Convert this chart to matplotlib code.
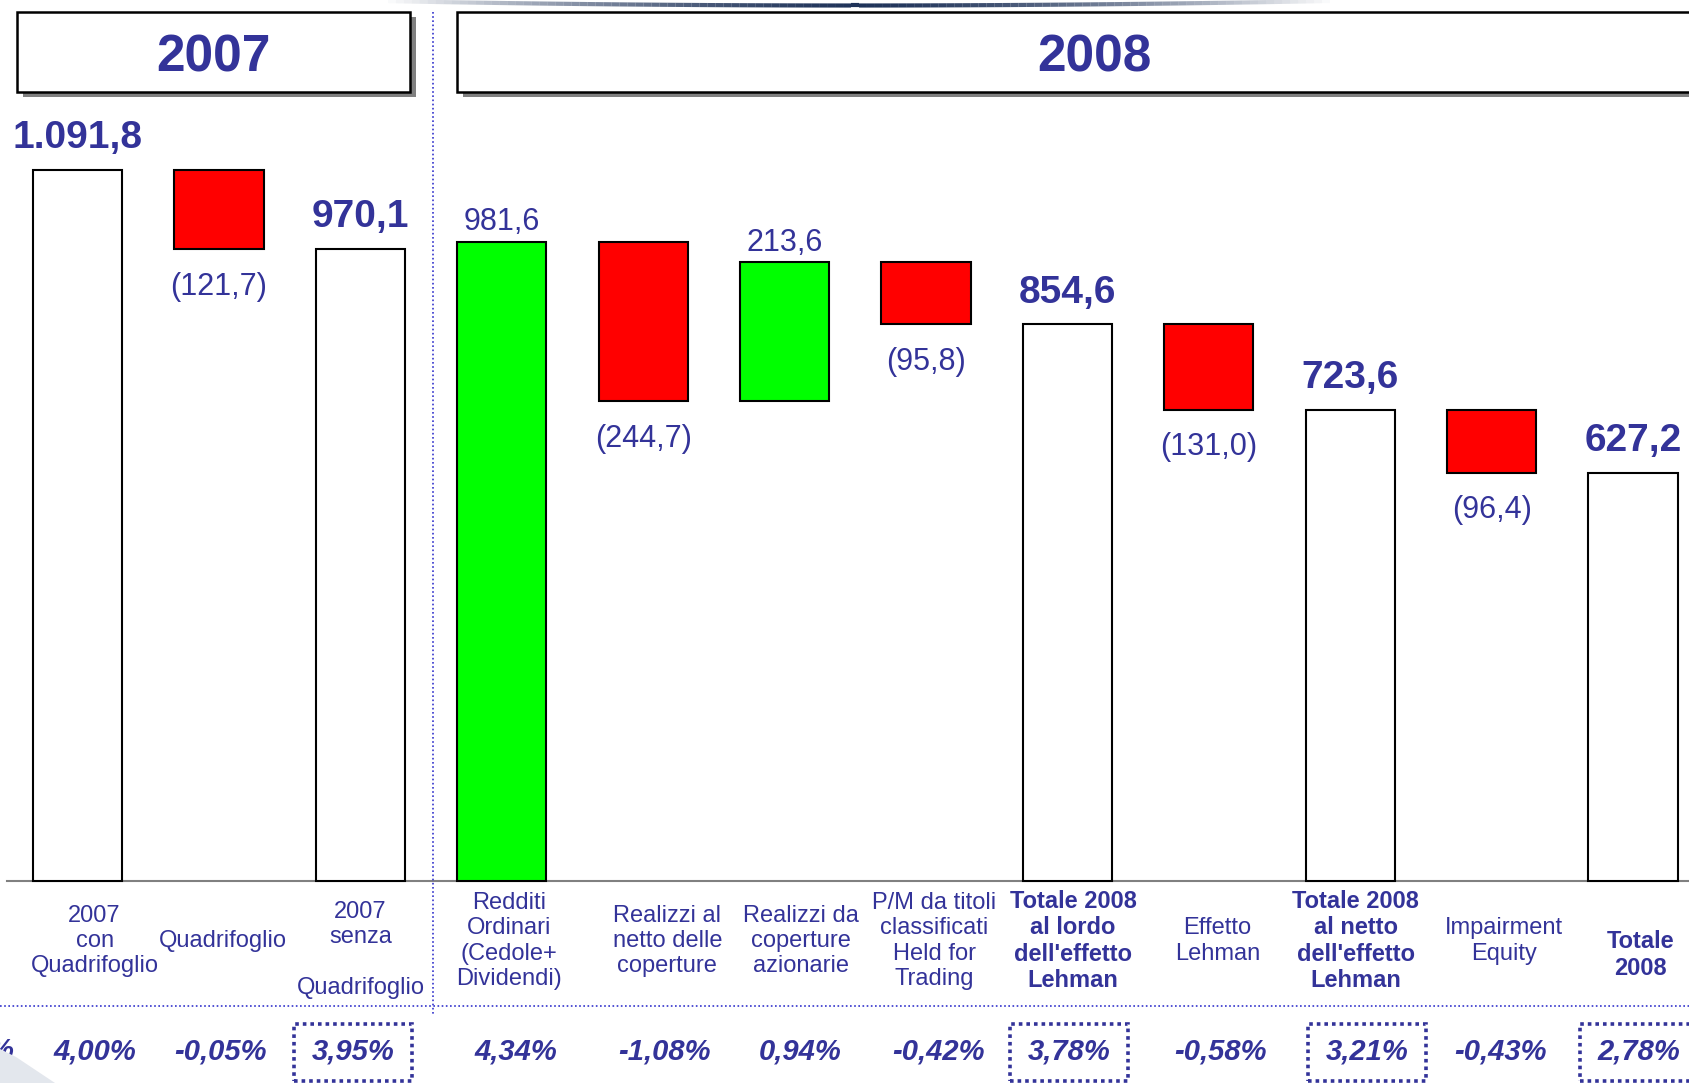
import numpy as np
import matplotlib.pyplot as plt
from matplotlib.patches import Rectangle, Polygon
from matplotlib.lines import Line2D
from matplotlib.collections import LineCollection

# chart data
categories = [
    "2007\ncon\nQuadrifoglio",
    "Quadrifoglio",
    "2007\nsenza\n\nQuadrifoglio",
    "Redditi\nOrdinari\n(Cedole+\nDividendi)",
    "Realizzi al\nnetto delle\ncoperture",
    "Realizzi da\ncoperture\nazionarie",
    "P/M da titoli\nclassificati\nHeld for\nTrading",
    "Totale 2008\nal lordo\ndell'effetto\nLehman",
    "Effetto\nLehman",
    "Totale 2008\nal netto\ndell'effetto\nLehman",
    "Impairment\nEquity",
    "Totale\n2008",
]
values = [1091.8, 121.7, 970.1, 981.6, 244.7, 213.6, 95.8, 854.6, 131.0, 723.6, 96.4, 627.2]
kinds = ['total', 'dec', 'total', 'base', 'dec', 'inc', 'dec', 'total', 'dec', 'total', 'dec', 'total']
yields = ['4,00%', '-0,05%', '3,95%', '4,34%', '-1,08%', '0,94%', '-0,42%',
          '3,78%', '-0,58%', '3,21%', '-0,43%', '2,78%']
boxed_yields = [2, 7, 9, 11]
bold_labels = [7, 9, 11]
headers = ['2007', '2008']

# layout tweaks (slide text boxes are not exactly centred on the bars)
label_dx = [0.12, 0.03, 0.0, 0.05, 0.17, 0.115, 0.06, 0.04, 0.06, 0.04, 0.085, 0.05]
yield_dx = [0.12, 0.01, -0.05, 0.10, 0.15, 0.11, 0.09, 0.01, 0.08, 0.12, 0.06, 0.04]
label_y = {2: 950, 11: 955}

W, H = 1690, 1083
NAVY = '#333399'
FONT = 'Liberation Sans'


def fmt(v, kind):
    s = f"{v:,.1f}".replace(',', 'X').replace('.', ',').replace('X', '.')
    return f"({s})" if kind == 'dec' else s


def fx(px):
    return px / W


def fy(py):
    return 1 - py / H


fig = plt.figure(figsize=(W / 100, H / 100), dpi=100)
ax = fig.add_axes([0, 0, 1, 1])
ax.set_xlim(-0.549, 11.403)
ax.set_ylim(-310.2, 1352.9)
ax.axis('off')

# waterfall bars
running = 0
for i, (v, k) in enumerate(zip(values, kinds)):
    if k == 'total':
        bottom, color = 0, 'white'
        running = v
    elif k == 'base':
        bottom, color = 0, '#00FF00'
        running = v
    elif k == 'inc':
        bottom, color = running, '#00FF00'
        running += v
    else:
        running -= v
        bottom, color = running, '#FF0000'
    ax.bar(i, v, bottom=bottom, width=0.63, color=color, edgecolor='black',
           linewidth=1.5, zorder=3)

    txt = fmt(v, k)
    if k == 'total':
        ax.annotate(txt, (i, bottom + v), xytext=(0, 23), textcoords='offset points',
                    ha='center', va='center', fontsize=28, fontweight='bold',
                    color=NAVY, family=FONT)
    elif k == 'dec':
        ax.annotate(txt, (i, bottom), xytext=(0, -27), textcoords='offset points',
                    ha='center', va='center', fontsize=22, color=NAVY, family=FONT)
    else:
        ax.annotate(txt, (i, bottom + v), xytext=(0, 14), textcoords='offset points',
                    ha='center', va='center', fontsize=22, color=NAVY, family=FONT)

# baseline
ax.axhline(0, xmin=fx(7), xmax=1, color='#808080', linewidth=1.5, zorder=2)

# category labels and yields (y in axes fraction)
xt = ax.get_xaxis_transform()
for i, lab in enumerate(categories):
    ax.text(i + label_dx[i], fy(label_y.get(i, 941)), lab, transform=xt,
            ha='center', va='center', fontsize=17, color=NAVY, family=FONT,
            linespacing=1.2, fontweight='bold' if i in bold_labels else 'normal')
for i, y in enumerate(yields):
    ax.text(i + yield_dx[i], fy(1051), y, transform=xt, ha='center', va='center',
            fontsize=21, color=NAVY, family=FONT, fontweight='bold', style='italic')
    if i in boxed_yields:
        x0 = ax.transData.transform((i + yield_dx[i], 0))[0]
        fig.patches.append(Rectangle((fx(x0 - 59), fy(1081)), fx(118), 57 / H,
                                     transform=fig.transFigure, fill=False,
                                     edgecolor=NAVY, linewidth=2.6,
                                     linestyle=(0, (1, 1.1))))
# cut-off yield at left edge
ax.text(fx(13), fy(1051), '%', transform=ax.transAxes, ha='right', va='center',
        fontsize=21, color=NAVY, family=FONT, fontweight='bold', style='italic')

# header boxes
for (x0, x1), title in zip([(17, 410), (457, 1731)], headers):
    fig.patches.append(Rectangle((fx(x0 + 6), fy(97)), fx(x1 - x0), 80 / H,
                                 transform=fig.transFigure, facecolor='#808080',
                                 edgecolor='none', zorder=1))
    fig.patches.append(Rectangle((fx(x0), fy(92)), fx(x1 - x0), 80 / H,
                                 transform=fig.transFigure, facecolor='white',
                                 edgecolor='black', linewidth=1.8, zorder=2))
    fig.text(fx((x0 + x1) / 2), fy(58), title, ha='center', va='center',
             fontsize=37, fontweight='bold', color=NAVY, family=FONT)

# dotted separators
fig.lines.append(Line2D([fx(433), fx(433)], [fy(12), fy(1015)], transform=fig.transFigure,
                        color='#3333CC', linewidth=1.2, linestyle=(0, (1, 1.5))))
fig.lines.append(Line2D([0, 1], [fy(1006), fy(1006)], transform=fig.transFigure,
                        color='#3333CC', linewidth=1.2, linestyle=(0, (1, 1.5))))

# slide template decoration: dark arc at the top, faint swoosh bottom-left
arc_x = np.linspace(380, 1330, 120)
t = (arc_x - 855) / 475
arc_y = 1.0 + 4.5 * (1 - t ** 2)
pts = np.column_stack([fx(arc_x), fy(arc_y)])
segs = np.stack([pts[:-1], pts[1:]], axis=1)
alphas = np.clip(1 - np.abs(t[:-1]) ** 1.5, 0, 1)
cols = [(0.12, 0.2, 0.35, a) for a in alphas]
lc = LineCollection(segs, colors=cols, linewidths=3, transform=fig.transFigure)
fig.add_artist(lc)
fig.patches.append(Polygon([(fx(0), fy(1049)), (fx(16), fy(1057)), (fx(55), fy(1083)),
                            (fx(0), fy(1083))], closed=True, transform=fig.transFigure,
                           facecolor='#e3e7ed', edgecolor='none'))

fig.savefig('out.png', dpi=100)
